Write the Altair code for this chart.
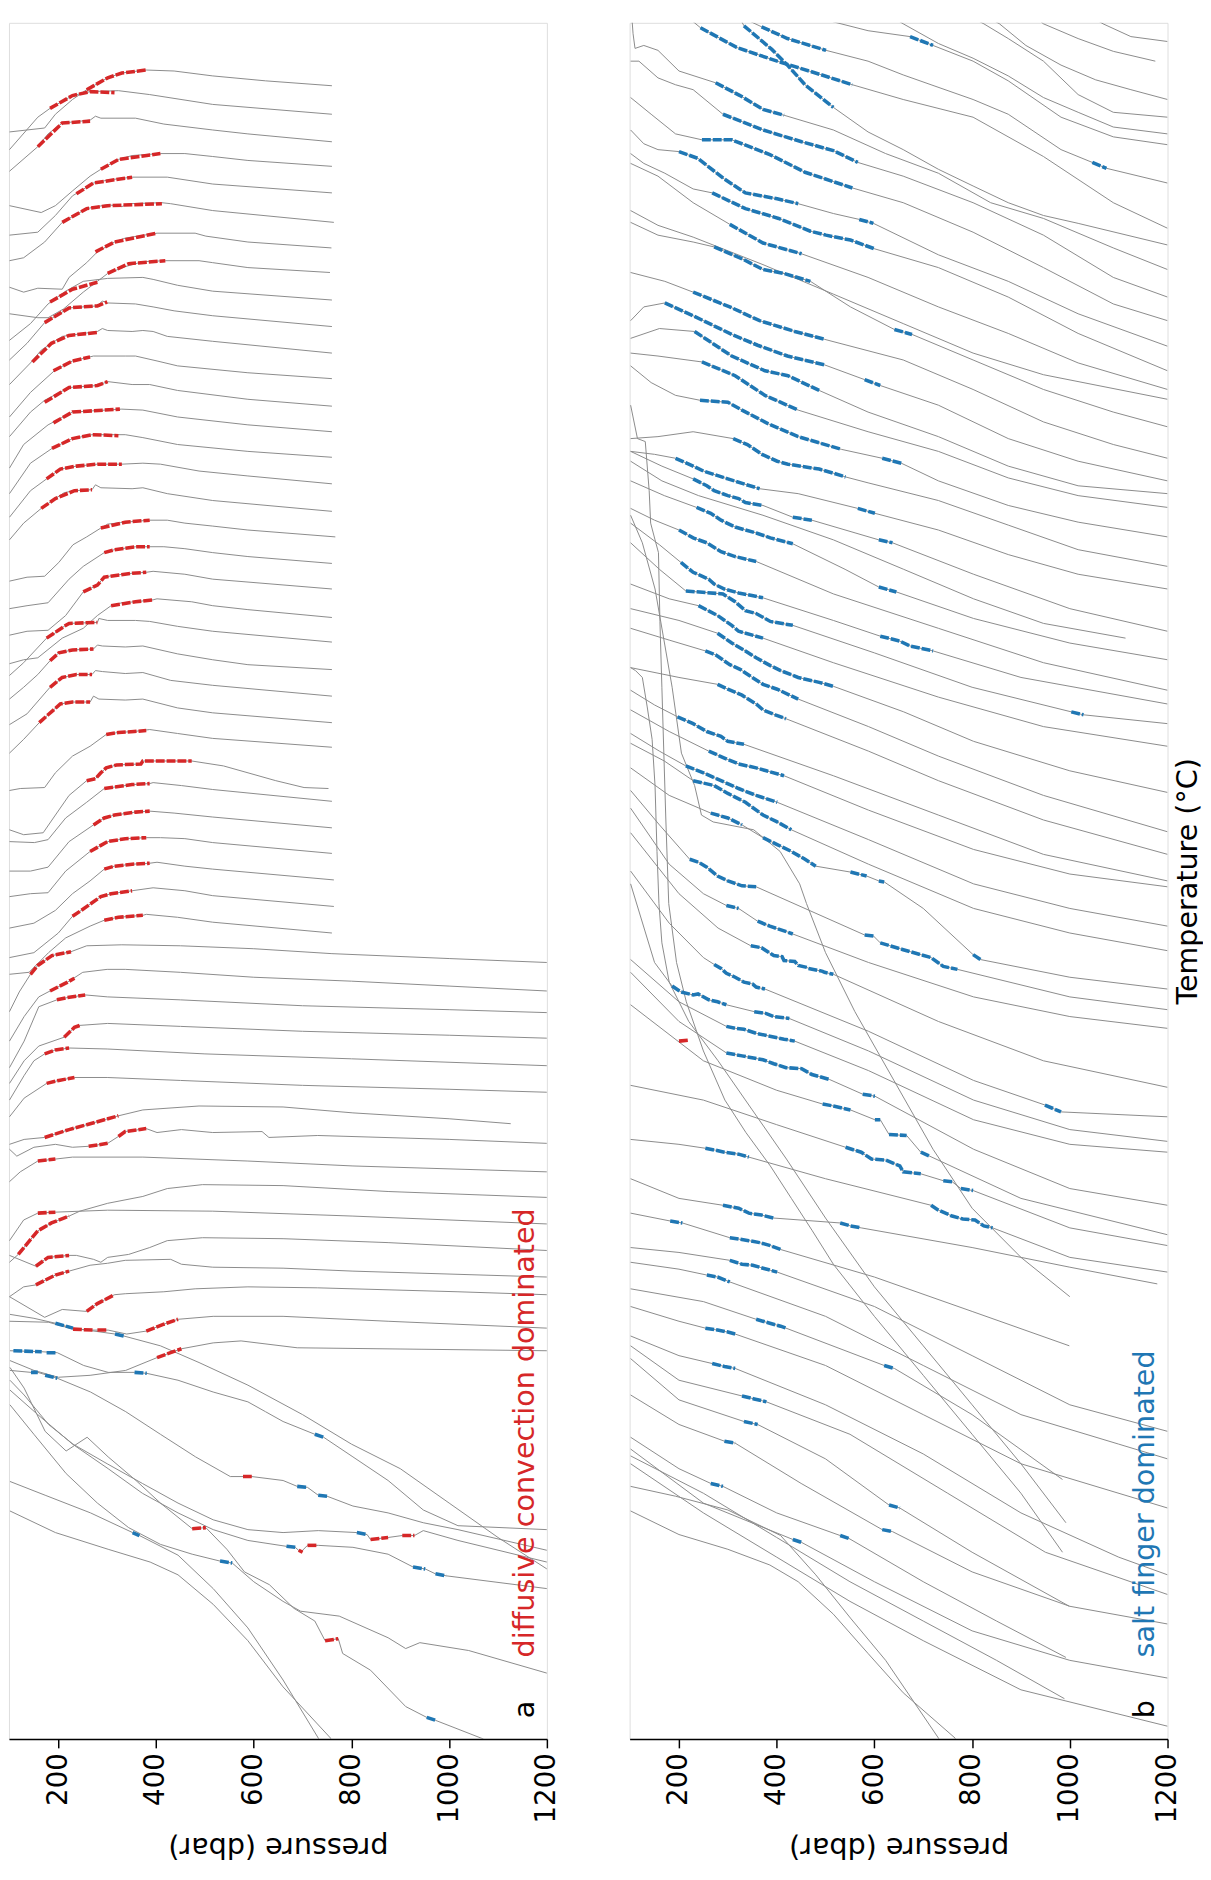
import altair as alt
import pandas as pd

FONT = "DejaVu Sans"
GRAY = "#8a8a8a"
RED = "#d62728"
BLUE = "#1f77b4"

P_DOMAIN = [99, 1200]          # pressure (dbar)
T_DOMAIN = [1750, 4]           # offset temperature scale (larger = lower)
PRESSURE_TICKS = [200, 400, 600, 800, 1000, 1200]

# ---------------- panel a : profiles (pressure, offset temperature) ----------------
A_UPPER = [
    [(100,115),(172,111),(194,97),(229,82),(258,72),(301,60),(330,55),(380,52),(437,53),(516,58),(624,63),(760,68)],
    [(100,133),(158,100),(183,91),(229,78),(265,74),(323,73),(387,77),(516,87),(760,97)],
    [(100,155),(158,130),(179,117),(208,106),(265,103),(276,99),(287,101),(358,101),(416,107),(516,113),(588,117),(760,125)],
    [(100,190),(165,197),(194,190),(229,175),(265,160),(287,153),(323,143),(351,139),(409,137),(459,137),(516,140),(588,144),(760,150)],
    [(100,220),(158,217),(194,200),(229,180),(272,167),(301,164),(351,161),(423,161),(516,168),(760,177)],
    [(100,246),(129,243),(172,227),(208,207),(258,193),(301,189),(330,191),(344,188),(412,187),(430,188),(516,195),(764,207)],
    [(100,273),(129,278),(158,274),(208,275),(222,263),(258,248),(280,237),(315,227),(337,223),(402,218),(480,218),(502,221),(588,227),(759,233)],
    [(100,300),(158,304),(179,304),(211,295),(251,278),(280,267),(301,259),(337,252),(373,247),(419,246),(488,246),(516,248),(588,253),(756,258)],
    [(100,327),(143,310),(179,290),(215,277),(251,267),(301,264),(373,263),(394,265),(444,271),(516,277),(760,286)],
    [(100,347),(136,330),(172,309),(222,294),(280,292),(290,287),(301,289),(358,290),(394,293),(437,297),(516,302),(760,313)],
    [(100,372),(143,350),(165,337),(208,323),(280,318),(290,315),(301,317),(351,318),(373,317),(394,318),(423,323),(516,328),(760,340)],
    [(100,405),(143,380),(194,357),(229,348),(272,343),(337,343),(358,343),(402,348),(444,353),(588,360),(760,366)],
    [(100,425),(143,400),(172,388),(222,375),(280,373),(301,369),(351,372),(387,372),(444,378),(588,387),(760,394)],
    [(100,457),(129,433),(179,413),(229,400),(330,397),(373,398),(444,405),(588,413),(760,420)],
    [(100,483),(143,452),(187,437),(229,427),(269,423),(337,423),(373,426),(444,433),(588,440),(760,446)],
    [(100,507),(143,480),(176,468),(204,458),(237,455),(280,453),(330,453),(373,452),(409,453),(488,460),(588,465),(760,473)],
    [(100,530),(129,513),(165,498),(194,488),(212,482),(233,480),(269,479),(276,474),(287,477),(351,478),(373,477),(423,483),(516,490),(760,501)],
    [(100,572),(136,568),(172,567),(201,553),(230,535),(258,527),(287,518),(301,514),(337,512),(387,510),(423,510),(459,513),(516,516),(588,520),(767,527)],
    [(100,600),(136,597),(179,594),(222,570),(251,557),(294,543),(315,540),(358,537),(387,537),(416,537),(459,539),(516,543),(588,547),(760,554)],
    [(100,627),(136,623),(179,622),(215,607),(251,583),(280,576),(294,568),(315,566),(351,564),(380,563),(394,562),(459,565),(516,570),(760,580)],
    [(100,656),(129,652),(158,650),(208,630),(251,620),(280,607),(308,597),(330,594),(358,593),(394,591),(402,590),(473,593),(516,597),(588,601),(760,609)],
    [(100,668),(129,655),(176,630),(190,626),(212,618),(222,615),(280,614),(283,610),(301,612),(358,612),(387,613),(444,618),(516,623),(760,634)],
    [(100,692),(129,680),(158,667),(183,653),(201,645),(229,642),(272,641),(280,637),(290,638),(337,639),(373,638),(444,646),(516,652),(588,657),(760,662)],
    [(100,718),(136,707),(183,680),(197,675),(208,670),(237,667),(269,667),(276,663),(290,664),(337,666),(373,665),(430,673),(516,678),(760,689)],
    [(100,747),(129,733),(161,716),(179,708),(204,697),(229,695),(265,695),(272,689),(283,692),(337,693),(373,692),(444,701),(516,706),(760,716)],
    [(100,785),(122,783),(172,782),(194,767),(229,750),(265,740),(298,728),(323,726),(355,725),(387,723),(444,727),(516,732),(760,741)],
    [(100,825),(129,830),(169,828),(194,810),(222,790),(258,775),(276,773),(287,767),(298,762),(319,759),(369,758),(373,755),(473,755),(538,760),(645,775),(703,782),(753,783)],
    [(100,837),(151,838),(179,835),(215,813),(258,797),(294,783),(323,781),(351,779),(387,778),(394,777),(452,780),(516,784),(760,796)],
    [(100,867),(143,867),(179,863),(222,837),(272,820),(294,813),(315,810),(358,807),(387,806),(437,808),(516,812),(760,823)],
    [(100,893),(143,890),(179,889),(215,867),(265,847),(283,842),(301,837),(337,834),(380,833),(409,833),(459,834),(516,838),(760,849)],
    [(100,925),(150,920),(194,907),(229,890),(265,877),(294,865),(315,862),(351,860),(387,859),(402,858),(459,862),(516,865),(764,876)],
    [(100,955),(150,950),(200,930),(229,913),(244,908),(287,893),(308,890),(351,887),(394,884),(459,887),(516,892),(764,903)],
    [(100,972),(140,970),(180,950),(215,935),(265,923),(294,917),(323,914),(373,912),(380,911),(444,914),(516,919),(760,930)],
]

A_MID = [
    [(100,1010),(120,990),(143,972),(158,963),(187,953),(226,949),(258,943),(330,942),(450,943),(600,946),(760,951),(1000,956),(1200,960)],
    [(100,1040),(130,1015),(160,995),(183,989),(219,980),(250,970),(300,967),(337,967),(450,970),(600,975),(800,979),(1000,984),(1200,989)],
    [(100,1067),(130,1040),(160,1005),(197,998),(215,996),(255,993),(301,995),(450,998),(700,1004),(1000,1008),(1200,1011)],
    [(100,1083),(130,1060),(160,1045),(212,1036),(233,1026),(244,1024),(301,1022),(450,1025),(700,1030),(1000,1034),(1200,1037)],
    [(100,1100),(130,1075),(150,1060),(172,1053),(194,1049),(222,1047),(300,1048),(500,1053),(800,1058),(1200,1065)],
    [(100,1117),(130,1098),(176,1083),(201,1080),(233,1077),(300,1077),(450,1080),(700,1085),(1000,1089),(1200,1092)],
    [(100,1145),(130,1140),(172,1138),(222,1130),(258,1125),(323,1116),(373,1110),(488,1106),(660,1107),(803,1113),(1000,1119),(1126,1124)],
    [(100,1150),(115,1157),(150,1148),(194,1145),(229,1148),(262,1147),(301,1144),(323,1137),(337,1132),(380,1129),(402,1133),(452,1130),(516,1133),(617,1132),(631,1138),(731,1136),(1000,1140),(1200,1144)],
    [(100,1183),(122,1173),(158,1162),(194,1160),(229,1158),(373,1158),(588,1162),(803,1167),(1200,1173)],
    [(100,1265),(118,1257),(158,1233),(186,1225),(222,1218),(244,1213),(301,1205),(373,1198),(423,1190),(495,1186),(660,1187),(875,1193),(1200,1199)],
    [(100,1243),(129,1222),(158,1215),(194,1214),(301,1212),(516,1213),(803,1218),(1200,1226)],
    [(100,1258),(154,1269),(179,1260),(222,1258),(237,1258),(272,1262),(287,1265),(301,1260),(344,1257),(387,1250),(423,1243),(495,1240),(660,1241),(875,1245),(1200,1253)],
    [(100,1300),(129,1290),(154,1288),(194,1278),(222,1274),(265,1268),(301,1266),(337,1263),(430,1262),(452,1267),(516,1270),(660,1271),(803,1274),(1200,1280)],
    [(100,1300),(172,1321),(208,1313),(258,1315),(280,1307),(315,1298),(337,1297),(416,1295),(480,1292),(588,1290),(731,1291),(1018,1295),(1200,1298)],
    [(100,1325),(180,1326),(230,1333),(270,1334),(302,1334),(340,1338),(380,1335),(416,1328),(445,1323),(517,1320),(660,1320),(875,1325),(1200,1332)],
    [(101,1365),(150,1375),(200,1382),(265,1380),(338,1375),(402,1362),(424,1358),(452,1353),(517,1347),(574,1345),(689,1352),(1200,1355)],
]

A_LOWER = [
    [(101,1318),(150,1322),(194,1327),(230,1332),(316,1338),(334,1340),(409,1350),(488,1367),(588,1390),(700,1420),(800,1450),(900,1475),(1000,1510),(1100,1545),(1200,1577)],
    [(101,1355),(166,1356),(198,1357),(252,1370),(302,1377),(356,1377),(381,1378),(445,1385),(517,1397),(588,1407),(624,1417),(660,1427),(725,1440),(743,1443),(803,1463),(875,1487),(947,1517),(1018,1533),(1200,1537)],
    [(101,1375),(144,1377),(158,1377),(198,1383),(266,1397),(338,1417),(409,1440),(481,1463),(552,1483),(596,1483),(660,1487),(689,1493),(710,1494),(732,1502),(750,1503),(803,1513),(875,1520),(947,1530),(1018,1537),(1200,1558)],
    [(101,1385),(130,1400),(180,1430),(230,1450),(300,1470),(372,1490),(445,1510),(517,1527),(588,1537),(660,1540),(732,1538),(811,1540),(832,1542),(839,1547),(875,1545),(904,1543),(929,1543),(947,1538),(1018,1548),(1200,1570)],
    [(101,1395),(158,1420),(229,1450),(302,1475),(372,1500),(445,1520),(517,1537),(588,1548),(667,1554),(685,1555),(696,1560),(710,1553),(732,1553),(803,1555),(875,1562),(926,1575),(951,1577),(972,1582),(994,1584),(1200,1597)],
    [(101,1372),(130,1393),(173,1437),(216,1457),(259,1443),(302,1463),(359,1487),(409,1510),(474,1536),(502,1535),(545,1557),(581,1580),(632,1593),(682,1617),(725,1630),(746,1650),(773,1648),(782,1663),(839,1680),(911,1717),(954,1728),(972,1731),(1070,1750),(1080,1765)],
    [(101,1410),(150,1440),(216,1480),(280,1510),(344,1535),(409,1552),(474,1562),(531,1569),(556,1571),(600,1590),(660,1610),(696,1620),(775,1625),(875,1647),(911,1658),(940,1652),(1040,1660),(1200,1683)],
    [(101,1488),(173,1502),(266,1520),(352,1540),(366,1543),(445,1563),(517,1597),(588,1637),(660,1690),(732,1749),(745,1765)],
    [(101,1518),(194,1540),(302,1557),(388,1570),(445,1583),(517,1613),(588,1650),(660,1697),(757,1749),(770,1765)],
]

A_RED = [
    [(258,72),(301,60),(330,55),(380,52)], [(183,91),(229,78),(265,74),(315,75)],
    [(158,130),(208,106),(265,104)], [(287,153),(323,143),(409,137)],
    [(237,178),(272,167),(351,161)], [(208,207),(258,193),(301,190),(412,188)],
    [(276,237),(315,227),(402,218)], [(301,259),(344,249),(419,246)],
    [(183,288),(229,275),(280,268)], [(172,309),(222,294),(280,292),(300,288)],
    [(147,349),(186,330),(222,322),(280,319)], [(190,358),(229,348),(265,344)],
    [(172,390),(222,375),(280,373),(301,369)], [(190,411),(229,400),(326,397)],
    [(187,437),(229,427),(269,423),(323,424)], [(176,468),(204,458),(237,455),(280,453),(330,453)],
    [(165,498),(194,488),(233,480),(269,479)], [(287,518),(337,512),(387,510)],
    [(294,543),(315,540),(358,537),(387,537)], [(251,583),(280,576),(294,568),(351,564),(380,563)],
    [(308,597),(358,593),(394,591)], [(176,630),(212,618),(222,615),(280,614)],
    [(183,653),(201,645),(229,642),(272,641)], [(183,680),(208,670),(237,667),(269,667)],
    [(161,716),(179,708),(204,697),(229,695),(265,695)], [(298,728),(323,726),(355,725),(380,724)],
    [(258,775),(276,773),(287,767),(298,762),(319,759),(369,758),(373,755),(473,755)],
    [(294,783),(323,781),(351,779),(387,778)], [(272,820),(294,813),(315,810),(358,807),(387,806)],
    [(265,847),(283,842),(301,837),(337,834),(380,833)], [(294,865),(315,862),(351,860),(387,859)],
    [(229,913),(244,908),(287,893),(308,890),(351,887)], [(294,917),(323,914),(373,912)],
    [(143,972),(158,963),(187,953),(226,949)], [(183,989),(219,980),(233,976)],
    [(197,998),(215,996),(255,993)], [(212,1036),(233,1026),(244,1024)],
    [(172,1053),(194,1049),(222,1047)], [(176,1083),(201,1080),(233,1077)],
    [(172,1138),(222,1130),(258,1125),(323,1116)], [(262,1147),(301,1144)],
    [(323,1137),(337,1132),(380,1129)], [(158,1162),(194,1160)],
    [(118,1257),(158,1233),(186,1225),(222,1218)], [(158,1215),(194,1214)],
    [(154,1269),(179,1260),(222,1258)], [(154,1288),(194,1278),(222,1274)],
    [(258,1315),(280,1307),(315,1298)], [(230,1333),(270,1334)], [(280,1334),(302,1334)],
    [(380,1335),(416,1328),(445,1323)], [(402,1362),(424,1358),(452,1353)],
    [(578,1483),(596,1483)], [(839,1547),(875,1545)], [(904,1543),(929,1543)],
    [(692,1558),(700,1560)], [(710,1553),(732,1553)], [(474,1536),(502,1535)], [(746,1650),(773,1648)],
]

A_BLUE = [
    [(194,1327),(230,1332)], [(316,1338),(334,1340)], [(108,1355),(166,1356)], [(176,1357),(198,1357)],
    [(356,1377),(381,1378)], [(725,1440),(743,1443)], [(144,1377),(158,1377)], [(173,1380),(198,1383)],
    [(689,1493),(710,1494)], [(732,1502),(750,1503)], [(811,1540),(832,1542)], [(667,1554),(685,1555)],
    [(926,1575),(951,1577)], [(972,1582),(994,1584)], [(954,1728),(972,1731)], [(531,1569),(556,1571)],
    [(352,1540),(366,1543)],
]

# ---------------- panel b : profiles ----------------
B_TOP = [
    [(1017,-10),(1068,5),(1125,18),(1200,23)],
    [(910,-10),(946,5),(1017,20),(1089,33),(1175,43)],
    [(802,-10),(856,5),(910,27),(982,47),(1053,62),(1125,72),(1200,82)],
    [(766,-10),(824,5),(874,20),(946,43),(1017,77),(1089,95),(1200,100)],
    [(609,-10),(659,5),(731,25),(802,40),(874,58),(946,80),(1017,95),(1089,110),(1200,117)],
    [(444,-10),(516,3),(587,12),(673,18),(720,27),(802,43),(874,63),(982,100),(1089,120),(1200,128)],
    [(322,-3),(369,8),(422,20),(501,32),(587,43),(659,57),(716,67),(802,82),(874,97),(982,133),(1046,146),(1075,152),(1200,167)],
    [(215,-3),(244,9),(318,29),(401,43),(473,54),(555,67),(659,82),(802,100),(946,140),(1089,187),(1200,213)],
    [(322,-3),(333,7),(390,31),(422,47),(458,67),(516,90),(587,115),(659,133),(731,153),(802,170),(874,187),(946,200),(1017,208),(1200,230)],
    [(103,-5),(106,15),(110,30),(128,27),(157,32),(200,53),(275,65),(325,78),(372,92),(415,98),(516,113),(623,137),(731,157),(838,187),(946,203),(1089,233),(1200,255)],
    [(101,43),(118,43),(157,60),(193,67),(229,72),(290,97),(372,113),(451,125),(516,134),(566,146),(659,160),(802,187),(946,220),(1089,263),(1200,283)],
    [(101,80),(143,97),(193,117),(247,123),(308,123),(386,138),(458,156),(555,172),(659,187),(802,217),(946,253),(1089,290),(1200,307)],
    [(101,113),(128,127),(157,133),(200,135),(239,142),(293,163),(336,177),(401,183),(444,188),(516,198),(569,204),(598,208),(731,240),(874,267),(1017,300),(1200,333)],
    [(101,137),(128,147),(171,157),(229,173),(268,177),(336,193),(404,203),(469,216),(501,220),(551,225),(601,234),(731,253),(874,283),(1017,320),(1200,358)],
    [(101,147),(157,160),(229,187),(304,209),(372,228),(451,239),(587,263),(731,293),(874,320),(1017,350),(1200,377)],
    [(101,195),(157,210),(229,222),(372,250),(516,280),(659,310),(802,340),(946,362),(1200,387)],
    [(101,207),(157,220),(229,227),(272,232),(333,245),(372,255),(415,259),(469,267),(551,293),(641,316),(677,321),(802,347),(946,377),(1089,400),(1200,415)],
    [(101,258),(171,267),(229,278),(304,293),(365,307),(437,318),(498,326),(659,347),(802,377),(946,410),(1089,433),(1200,447)],
    [(101,307),(128,293),(171,289),(229,302),(308,321),(361,332),(422,343),(498,352),(580,367),(612,373),(731,393),(874,427),(1017,450),(1200,470)],
    [(101,325),(160,315),(232,318),(308,343),(376,358),(423,363),(487,378),(587,400),(731,425),(874,455),(1017,475),(1200,483)],
    [(101,340),(157,343),(247,349),(315,363),(376,383),(444,398),(587,420),(731,440),(874,467),(1017,485),(1200,497)],
    [(101,353),(143,370),(193,383),(243,388),(300,390),(329,398),(383,412),(444,425),(533,438),(616,447),(655,452),(731,470),(874,495),(1017,512),(1200,527)],
    [(101,427),(157,425),(229,420),(311,427),(340,433),(370,443),(401,450),(423,453),(487,458),(515,462),(541,466),(587,472),(731,490),(874,515),(1017,540),(1200,557)],
    [(101,440),(150,443),(193,447),(229,455),(250,460),(300,468),(365,478),(444,483),(566,498),(601,503),(731,520),(874,545),(1017,565),(1200,580)],
]

B_MID = [
    [(101,450),(165,470),(240,485),(372,505),(516,530),(660,560),(803,590),(946,615),(1114,630)],
    [(101,440),(165,455),(229,468),(257,475),(272,480),(300,485),(322,488),(336,492),(372,495),(433,507),(472,510),(609,530),(637,533),(803,565),(1000,600),(1200,623)],
    [(101,470),(170,485),(236,497),(265,503),(286,510),(315,517),(358,523),(387,528),(433,534),(540,560),(609,578),(645,583),(803,610),(1000,635),(1200,652)],
    [(101,498),(150,510),(200,520),(229,528),(257,533),(286,542),(315,547),(358,552),(516,585),(731,620),(946,655),(1200,683)],
    [(101,513),(160,535),(204,553),(229,563),(261,570),(272,575),(293,580),(322,584),(372,589),(516,612),(612,628),(652,633),(673,638),(720,643),(900,670),(1200,697)],
    [(101,533),(160,560),(214,582),(290,585),(315,593),(336,602),(358,605),(387,613),(433,617),(600,645),(800,680),(1003,705),(1028,708),(1200,717)],
    [(101,575),(180,590),(240,597),(279,607),(308,617),(322,623),(372,630),(516,655),(731,690),(946,720),(1200,740)],
    [(101,600),(200,612),(279,625),(308,635),(336,643),(358,650),(387,658),(408,663),(444,670),(487,675),(516,679),(660,705),(803,735),(1000,765),(1200,787)],
    [(101,620),(180,632),(254,643),(275,647),(304,657),(326,662),(344,668),(372,677),(401,682),(444,692),(588,720),(731,750),(946,790),(1200,827)],
    [(101,660),(200,670),(279,677),(300,682),(329,688),(358,697),(372,703),(397,708),(419,712),(588,745),(731,775),(946,815),(1200,850)],
    [(101,683),(150,698),(197,710),(229,717),(257,725),(286,730),(300,735),(333,738),(516,770),(731,810),(946,850),(1200,877)],
    [(101,703),(180,725),(261,745),(293,752),(322,758),(358,762),(379,765),(415,770),(588,805),(803,845),(1000,870),(1200,883)],
    [(101,727),(160,745),(214,760),(250,767),(286,775),(322,783),(358,790),(401,797),(588,835),(803,880),(1000,905),(1200,923)],
    [(101,737),(170,755),(229,775),(272,780),(300,788),(336,797),(372,810),(401,817),(430,825),(588,860),(803,905),(1000,930),(1200,948)],
    [(101,762),(180,790),(265,808),(300,813),(329,820),(372,833),(401,840),(430,847),(458,855),(480,862),(551,868),(584,872),(609,877),(620,878),(700,905),(802,952),(817,957),(1000,975),(1200,987)],
    [(101,785),(160,820),(222,855),(240,858),(257,863),(279,872),(300,877),(329,882),(358,883),(580,932),(598,933),(612,940),(659,947),(716,955),(741,964),(770,967),(1000,995),(1200,1008)],
    [(101,803),(180,860),(250,890),(297,902),(322,905),(361,918),(386,923),(422,929),(433,931),(588,960),(803,995),(1000,1015),(1200,1027)],
]

B_LOW = [
    [(101,828),(200,890),(280,925),(347,943),(369,945),(394,953),(411,954),(415,958),(437,959),(444,963),(462,965),(465,966),(494,969),(498,970),(516,972),(731,1020),(946,1060),(1200,1087)],
    [(101,867),(180,920),(250,955),(272,962),(286,966),(297,971),(315,975),(333,980),(351,982),(358,985),(376,987),(588,1030),(803,1080),(949,1105),(982,1112),(1200,1117)],
    [(101,880),(150,960),(186,984),(204,990),(229,993),(239,992),(261,998),(279,1000),(297,1003),(354,1010),(379,1012),(394,1015),(426,1017),(588,1050),(803,1100),(1000,1130),(1200,1142)],
    [(101,957),(200,1000),(297,1025),(315,1027),(333,1028),(358,1032),(386,1035),(415,1038),(437,1040),(588,1070),(803,1120),(1000,1145),(1200,1153)],
    [(101,970),(200,1020),(297,1052),(329,1055),(372,1059),(394,1063),(419,1067),(451,1068),(472,1074),(508,1079),(576,1094),(601,1096),(803,1150),(1000,1190),(1200,1207)],
    [(101,1003),(250,1060),(400,1090),(494,1104),(516,1106),(551,1110),(601,1120),(612,1120),(630,1135),(666,1136),(695,1153),(713,1157),(900,1200),(1200,1237)],
    [(101,1085),(250,1100),(400,1125),(541,1148),(573,1153),(594,1160),(623,1161),(652,1167),(659,1173),(695,1175),(741,1182),(759,1183),(777,1190),(802,1192),(1000,1230),(1200,1248)],
    [(101,1140),(200,1145),(254,1149),(275,1151),(293,1153),(322,1155),(343,1158),(500,1180),(716,1207),(731,1212),(759,1218),(781,1221),(806,1222),(824,1228),(842,1230),(1000,1260),(1200,1275)],
    [(101,1180),(200,1200),(290,1207),(322,1210),(343,1215),(369,1217),(394,1220),(530,1225),(551,1228),(573,1230),(800,1250),(1000,1270),(1179,1287)],
    [(101,1215),(182,1223),(207,1225),(304,1240),(343,1243),(365,1245),(387,1248),(408,1252),(600,1280),(800,1315),(999,1350)],
    [(101,1250),(200,1255),(304,1263),(329,1267),(351,1268),(372,1271),(401,1275),(600,1310),(800,1360),(1000,1410),(1200,1437)],
    [(101,1265),(200,1272),(257,1278),(279,1280),(304,1285),(500,1320),(700,1370),(900,1420),(1100,1450),(1200,1465)],
    [(101,1292),(250,1305),(358,1323),(386,1327),(408,1330),(419,1332),(620,1370),(641,1373),(800,1420),(985,1486)],
    [(101,1310),(200,1325),(254,1332),(279,1334),(300,1336),(315,1338),(500,1370),(700,1420),(900,1470),(1200,1515)],
    [(101,1340),(200,1360),(268,1368),(293,1371),(315,1373),(500,1410),(700,1460),(900,1520),(1100,1565),(1200,1583)],
    [(101,1350),(200,1385),(329,1401),(354,1404),(379,1407),(550,1440),(750,1500),(950,1560),(1200,1603)],
    [(101,1363),(200,1405),(333,1427),(361,1430),(500,1465),(630,1512),(652,1515),(800,1560),(999,1615)],
    [(101,1400),(200,1430),(293,1447),(315,1449),(450,1490),(616,1537),(637,1539),(800,1580),(1000,1615),(1200,1633)],
    [(101,1443),(200,1475),(265,1490),(290,1493),(400,1520),(530,1543),(548,1546),(700,1590),(850,1630),(992,1667)],
    [(101,1455),(250,1510),(433,1547),(451,1550),(600,1590),(800,1640),(1000,1670),(1200,1688)],
    [(101,1462),(250,1500),(400,1545),(550,1590),(700,1630),(850,1670),(989,1709)],
    [(101,1470),(250,1520),(400,1565),(550,1610),(700,1650),(900,1700),(1200,1737)],
    [(101,1493),(193,1503),(300,1517),(408,1543),(480,1583),(551,1627),(623,1670),(731,1749),(745,1765)],
    [(101,1518),(200,1542),(300,1557),(386,1573),(444,1590),(516,1623),(587,1663),(659,1703),(765,1749),(780,1765)],
]

# near-vertical (steep shallow part) profiles of panel b
B_STEEP = [
    [(101,393),(115,427),(131,430),(139,480),(142,513),(151,530),(158,543),(161,613),(165,680),(169,747),(173,813),(179,900),(195,960),(215,1000),(250,1050),(294,1100),(337,1133),(387,1167),(430,1200),(473,1233),(516,1267),(600,1320),(700,1380),(800,1440),(900,1500),(985,1560)],
    [(101,505),(125,533),(151,580),(171,637),(186,680),(205,747),(232,780),(246,810),(270,817),(353,825),(407,847),(447,880),(461,900),(500,950),(560,1010),(640,1080),(720,1150),(800,1210),(900,1260),(1000,1300)],
    [(101,660),(111,663),(125,670),(135,700),(145,733),(151,780),(155,847),(159,900),(165,940),(180,980),(220,1020),(280,1060),(350,1110),(420,1160),(500,1220),(600,1290),(700,1350),(800,1410),(900,1470),(992,1530)],
]

B_BLUE = [
    [(673,18),(720,27)], [(369,8),(422,20),(501,32)], [(1046,146),(1075,152)],
    [(244,9),(318,29),(401,43),(473,54),(555,67)], [(333,7),(390,31),(422,47),(458,67),(516,90)],
    [(275,65),(325,78),(372,92),(415,98)], [(290,97),(372,113),(451,125),(516,134),(566,146)],
    [(247,123),(308,123),(386,138),(458,156),(555,172)],
    [(200,135),(239,142),(293,163),(336,177),(401,183),(444,188)], [(569,204),(598,208)],
    [(268,177),(336,193),(404,203),(469,216),(501,220),(551,225),(601,234)],
    [(304,209),(372,228),(451,239)],
    [(272,232),(333,245),(372,255),(415,259),(469,267)], [(641,316),(677,321)],
    [(229,278),(304,293),(365,307),(437,318),(498,326)],
    [(171,289),(229,302),(308,321),(361,332),(422,343),(498,352)], [(580,367),(612,373)],
    [(232,318),(308,343),(376,358),(423,363),(487,378)],
    [(247,349),(315,363),(376,383),(444,398)],
    [(243,388),(300,390),(329,398),(383,412),(444,425),(533,438)], [(616,447),(655,452)],
    [(311,427),(340,433),(370,443),(401,450),(423,453),(487,458),(515,462),(541,466)],
    [(193,447),(229,455),(250,460),(300,468),(365,478)], [(566,498),(601,503)],
    [(229,468),(257,475),(272,480),(300,485),(322,488),(336,492),(372,495)], [(433,507),(472,510)], [(609,530),(637,533)],
    [(236,497),(265,503),(286,510),(315,517),(358,523),(387,528),(433,534)], [(609,578),(645,583)],
    [(200,520),(229,528),(257,533),(286,542),(315,547),(358,552)],
    [(204,553),(229,563),(261,570),(272,575),(293,580),(322,584),(372,589)], [(612,628),(652,633),(673,638),(720,643)],
    [(214,582),(290,585),(315,593),(336,602),(358,605),(387,613),(433,617)], [(1003,705),(1028,708)],
    [(240,597),(279,607),(308,617),(322,623),(372,630)],
    [(279,625),(308,635),(336,643),(358,650),(387,658),(408,663),(444,670),(487,675),(516,679)],
    [(254,643),(275,647),(304,657),(326,662),(344,668),(372,677),(401,682),(444,692)],
    [(279,677),(300,682),(329,688),(358,697),(372,703),(397,708),(419,712)],
    [(197,710),(229,717),(257,725),(286,730),(300,735),(333,738)],
    [(261,745),(293,752),(322,758),(358,762),(379,765),(415,770)],
    [(214,760),(250,767),(286,775),(322,783),(358,790),(401,797)],
    [(229,775),(272,780),(300,788),(336,797),(372,810),(401,817),(430,825)],
    [(265,808),(300,813),(329,820)], [(372,833),(401,840),(430,847),(458,855),(480,862)],
    [(551,868),(584,872)], [(609,877),(620,878)], [(802,952),(817,957)],
    [(222,855),(240,858),(257,863),(279,872),(300,877),(329,882),(358,883)], [(580,932),(598,933)],
    [(612,940),(659,947),(716,955),(741,964),(770,967)],
    [(297,902),(322,905)], [(361,918),(386,923),(422,929),(433,931)],
    [(347,943),(369,945),(394,953),(411,954),(415,958),(437,959),(444,963),(462,965),(465,966),(494,969),(498,970),(516,972)],
    [(272,962),(286,966),(297,971),(315,975),(333,980),(351,982),(358,985),(376,987)], [(949,1105),(982,1112)],
    [(186,984),(204,990),(229,993),(239,992),(261,998),(279,1000),(297,1003)], [(354,1010),(379,1012),(394,1015),(426,1017)],
    [(297,1025),(315,1027),(333,1028),(358,1032),(386,1035),(415,1038),(437,1040)],
    [(297,1052),(329,1055),(372,1059),(394,1063),(419,1067),(451,1068),(472,1074),(508,1079)], [(576,1094),(601,1096)],
    [(494,1104),(516,1106),(551,1110)], [(601,1120),(612,1120)], [(630,1135),(666,1136)], [(695,1153),(713,1157)],
    [(541,1148),(573,1153),(594,1160),(623,1161),(652,1167),(659,1173),(695,1175)], [(741,1182),(759,1183)], [(777,1190),(802,1192)],
    [(254,1149),(275,1151),(293,1153),(322,1155),(343,1158)],
    [(716,1207),(731,1212),(759,1218),(781,1221),(806,1222),(824,1228),(842,1230)],
    [(290,1207),(322,1210),(343,1215),(369,1217),(394,1220)], [(530,1225),(551,1228),(573,1230)],
    [(182,1223),(207,1225)], [(304,1240),(343,1243),(365,1245),(387,1248),(408,1252)],
    [(304,1263),(329,1267),(351,1268),(372,1271),(401,1275)], [(257,1278),(279,1280),(304,1285)],
    [(358,1323),(386,1327),(408,1330),(419,1332)], [(620,1370),(641,1373)],
    [(254,1332),(279,1334),(300,1336),(315,1338)], [(268,1368),(293,1371),(315,1373)],
    [(329,1401),(354,1404),(379,1407)], [(333,1427),(361,1430)], [(630,1512),(652,1515)],
    [(293,1447),(315,1449)], [(616,1537),(637,1539)], [(265,1490),(290,1493)], [(530,1543),(548,1546)],
    [(433,1547),(451,1550)],
]

B_RED = [[(200,1040),(218,1039)]]

A_TEXT = [("diffusive convection dominated", 1155, 1667, RED), ("a", 1155, 1729, "black")]
B_TEXT = [("salt finger dominated", 1155, 1667, BLUE), ("b", 1155, 1729, "black")]


def lines_df(lines):
    rows = []
    for i, line in enumerate(lines):
        for k, (p, t) in enumerate(line):
            rows.append({"id": i, "k": k, "p": p, "t": t})
    return pd.DataFrame(rows)


def text_df(items):
    return pd.DataFrame([{"label": s, "p": p, "t": t, "c": c} for s, p, t, c in items])


X_AXIS = alt.Axis(
    values=PRESSURE_TICKS, format="d", labelAngle=270, labelFontSize=28, labelFont=FONT,
    labelColor="black", labelPadding=5, labelFlush=False, labelOverlap=False,
    tickSize=9, tickWidth=1.5, tickColor="black", domainColor="black", domainWidth=1.5,
    grid=False, title="pressure (dbar)", titleAngle=180, titleBaseline="bottom",
    titleFontSize=29, titleFont=FONT, titleFontWeight="normal", titleColor="black",
    titlePadding=9,
)

Y_AXIS_B = alt.Axis(
    orient="right", labels=False, ticks=False, domain=False, grid=False,
    title="Temperature (°C)", titleAngle=270, titleBaseline="top",
    titleFontSize=29, titleFont=FONT, titleFontWeight="normal", titleColor="black",
    titlePadding=6,
)


def encs(y_axis):
    x = alt.X("p:Q", scale=alt.Scale(domain=P_DOMAIN, nice=False, zero=False), axis=X_AXIS)
    y = alt.Y("t:Q", scale=alt.Scale(domain=T_DOMAIN, nice=False, zero=False), axis=y_axis)
    return x, y


def panel(gray_lines, red_segs, blue_segs, texts, y_axis):
    x, y = encs(y_axis)
    layers = [
        alt.Chart(lines_df(gray_lines)).mark_line(color=GRAY, strokeWidth=1.0, clip=True).encode(
            x=x, y=y, detail="id:N", order="k:Q")
    ]
    for segs, col in ((red_segs, RED), (blue_segs, BLUE)):
        if segs:
            layers.append(
                alt.Chart(lines_df(segs)).mark_line(
                    color=col, strokeWidth=3.6, strokeCap="butt", strokeDash=[9, 2], clip=True
                ).encode(x=x, y=y, detail="id:N", order="k:Q")
            )
    layers.append(
        alt.Chart(text_df(texts)).mark_text(
            angle=270, align="left", baseline="middle", fontSize=29, font=FONT
        ).encode(x=x, y=y, text="label:N", color=alt.Color("c:N", scale=None))
    )
    return alt.layer(*layers).properties(width=546, height=1742)


panel_a = panel(A_UPPER + A_MID + A_LOWER, A_RED, A_BLUE, A_TEXT, None)
panel_b = panel(B_TOP + B_MID + B_LOW + B_STEEP, B_RED, B_BLUE, B_TEXT, Y_AXIS_B)

chart = (
    alt.hconcat(panel_a, panel_b, spacing=68)
    .properties(padding=0)
    .configure_view(stroke="black", strokeWidth=1.5)
    .configure(font=FONT)
)

chart.save("out.html", embed_options={"renderer": "svg", "actions": False})
